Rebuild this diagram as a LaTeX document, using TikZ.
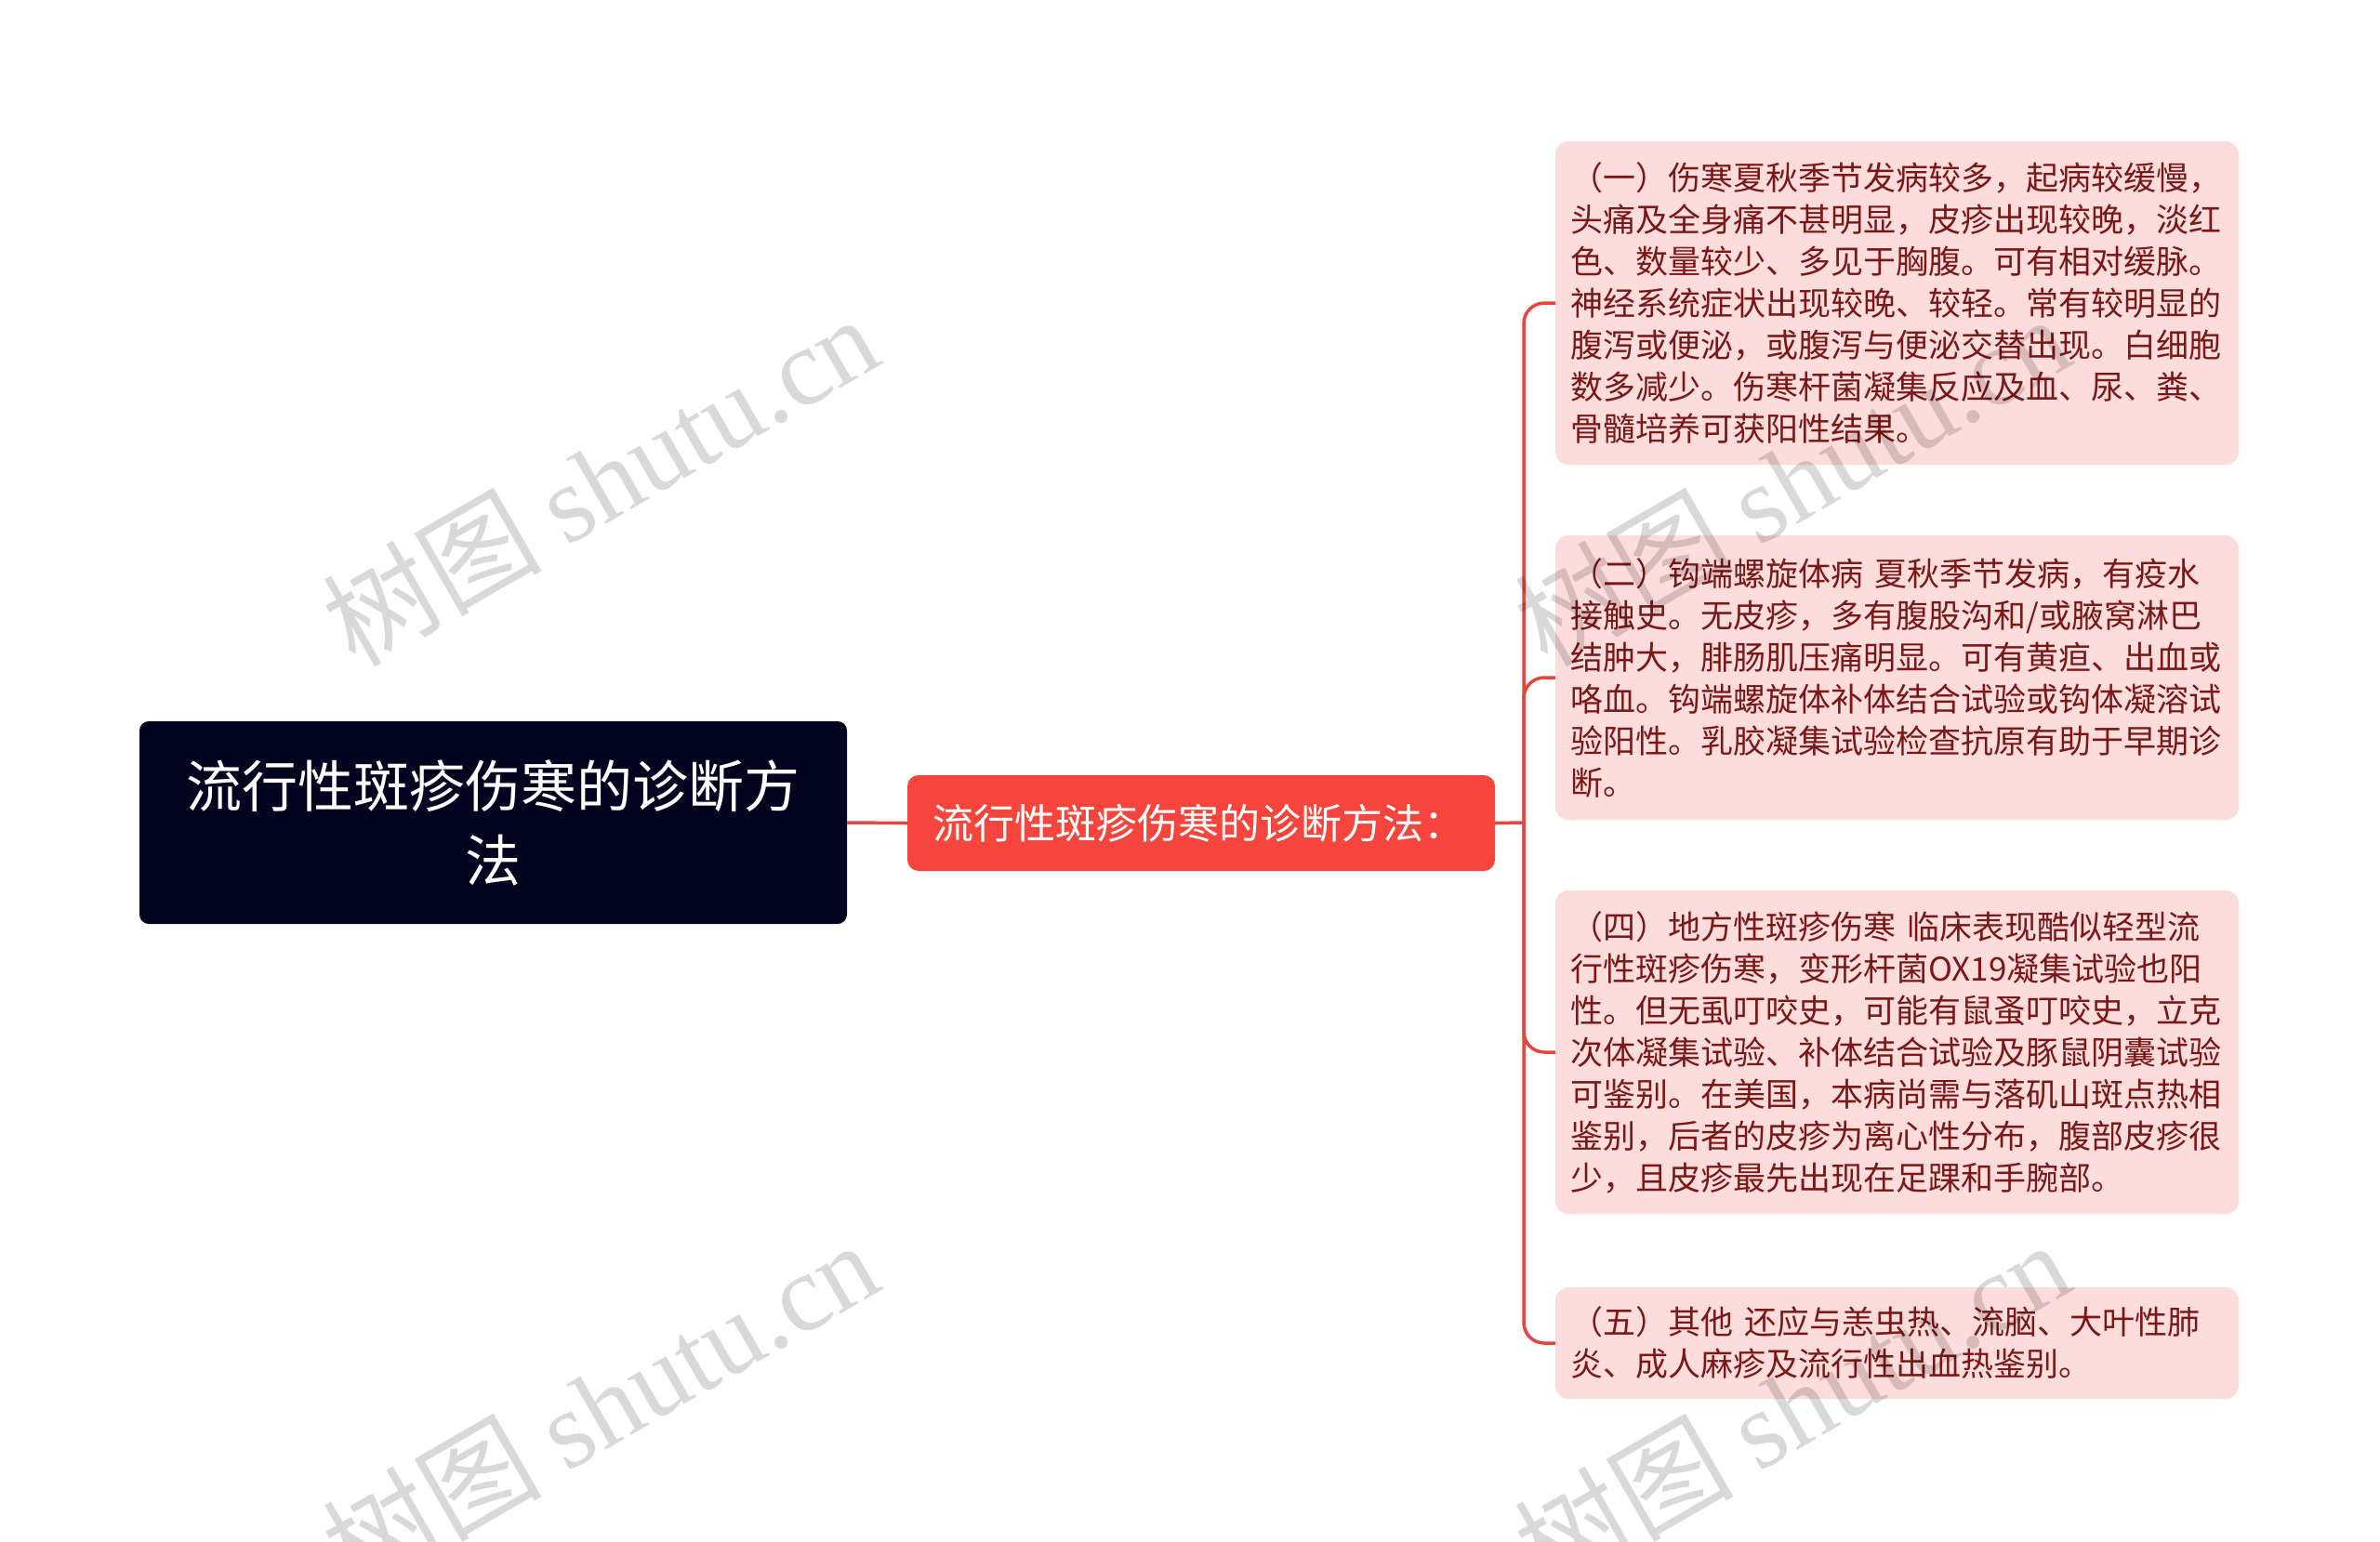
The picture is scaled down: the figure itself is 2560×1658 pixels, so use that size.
\documentclass[tikz,border=0pt]{standalone}
\usepackage{fontspec}
\setmainfont{Noto Sans CJK SC}
\newfontfamily\wmserif{Liberation Serif}
\newfontfamily\wmcjk{Noto Sans CJK SC}
\definecolor{rootc}{HTML}{02031E}
\definecolor{midc}{HTML}{F5453D}
\definecolor{linec}{HTML}{E6463D}
\definecolor{leafc}{HTML}{FDDCDC}
\definecolor{leaftext}{HTML}{7A1717}
\begin{document}
\begin{tikzpicture}[x=1pt,y=-1pt,
  rootbox/.style={fill=rootc,text=white,rounded corners=10pt,minimum width=761pt,minimum height=218pt,align=center,inner sep=0pt,font=\fontsize{60pt}{80pt}\selectfont},
  midbox/.style={fill=midc,text=white,rounded corners=12pt,minimum width=632pt,minimum height=103pt,inner sep=0pt,font=\fontsize{44pt}{52pt}\selectfont},
  leafbox/.style={fill=leafc,text=leaftext,rounded corners=14pt,text width=702pt,inner xsep=16.5pt,inner ysep=0pt,align=left,font=\fontsize{35pt}{45pt}\selectfont},
  conn/.style={draw=linec,line width=3.5pt},
  wm/.style={text=black,text opacity=0.15,inner sep=0pt,font=\fontsize{118pt}{118pt}\selectfont,rotate=30}
]
\useasboundingbox (0,0) rectangle (2560,1658);
\fill[white] (0,0) rectangle (2560,1658);

\node[rootbox] (root) at (530.5,885) {流行性斑疹伤寒的诊断方\\法};
\node[midbox] (mid) at (1292,885.5) {\hspace*{-6pt}流行性斑疹伤寒的诊断方法：};

\node[leafbox,minimum height=348pt] (b1) at (2040.5,326) {（一）伤寒夏秋季节发病较多，起病较缓慢，\\头痛及全身痛不甚明显，皮疹出现较晚，淡红\\色、数量较少、多见于胸腹。可有相对缓脉。\\神经系统症状出现较晚、较轻。常有较明显的\\腹泻或便泌，或腹泻与便泌交替出现。白细胞\\数多减少。伤寒杆菌凝集反应及血、尿、粪、\\骨髓培养可获阳性结果。};
\node[leafbox,minimum height=306pt] (b2) at (2040.5,729) {（二）钩端螺旋体病 夏秋季节发病，有疫水\\接触史。无皮疹，多有腹股沟和/或腋窝淋巴\\结肿大，腓肠肌压痛明显。可有黄疸、出血或\\咯血。钩端螺旋体补体结合试验或钩体凝溶试\\验阳性。乳胶凝集试验检查抗原有助于早期诊\\断。};
\node[leafbox,minimum height=348pt] (b3) at (2040.5,1132) {（四）地方性斑疹伤寒 临床表现酷似轻型流\\行性斑疹伤寒，变形杆菌OX19凝集试验也阳\\性。但无虱叮咬史，可能有鼠蚤叮咬史，立克\\次体凝集试验、补体结合试验及豚鼠阴囊试验\\可鉴别。在美国，本病尚需与落矶山斑点热相\\鉴别，后者的皮疹为离心性分布，腹部皮疹很\\少，且皮疹最先出现在足踝和手腕部。};
\node[leafbox,minimum height=120pt] (b4) at (2040.5,1445) {（五）其他 还应与恙虫热、流脑、大叶性肺\\炎、成人麻疹及流行性出血热鉴别。};

\coordinate (sp) at (1639,885);
\draw[conn] (root.east) -- (mid.west);
\draw[conn] (mid.east) -- (sp);
\foreach \b in {b1,b2,b3,b4} \draw[conn,rounded corners=22pt] (sp) |- (\b.west);

\node[wm] (wm1) at (645,516) {{\wmcjk 树图} {\wmserif shutu.cn}};
\node[wm] (wm2) at (645,1512) {{\wmcjk 树图} {\wmserif shutu.cn}};
\node[wm] (wm3) at (1927,516) {{\wmcjk 树图} {\wmserif shutu.cn}};
\node[wm] (wm4) at (1927,1512) {{\wmcjk 树图} {\wmserif shutu.cn}};
\end{tikzpicture}
\end{document}
